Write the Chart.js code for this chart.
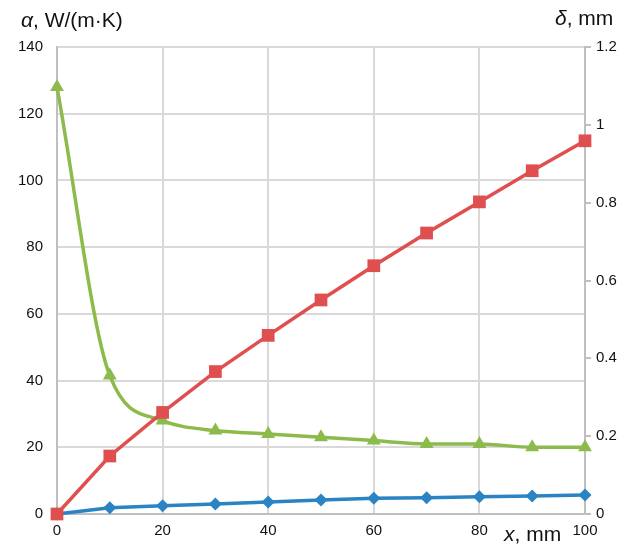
<!DOCTYPE html>
<html>
<head>
<meta charset="utf-8">
<script src="https://cdn.jsdelivr.net/npm/chart.js@4.4.1/dist/chart.umd.min.js"></script>
<style>
    html, body { margin: 0; padding: 0; background: #fff; }
    #wrap { position: relative; width: 633px; height: 546px; }
    .title {
        position: absolute;
        font-family: 'Liberation Sans', Arial, sans-serif;
        font-size: 21px;
        color: #111;
        white-space: nowrap;
        line-height: 1;
    }
</style>
</head>
<body>
<div id="wrap">
    <canvas id="chart" width="633" height="546"></canvas>
    <div class="title" style="left:21px; top:9px;"><i>α</i>, W/(m·K)</div>
    <div class="title" style="left:555px; top:7px;"><i>δ</i>, mm</div>
    <div class="title" style="left:504px; top:523px;"><i>x</i>, mm</div>
</div>
<script>
// Data
const xValues = [0, 10, 20, 30, 40, 50, 60, 70, 80, 90, 100];
const deltaMm = [0, 0.149, 0.261, 0.366, 0.459, 0.550, 0.638, 0.722, 0.802, 0.882, 0.959];
const alphaLow = [0, 1.9, 2.5, 3.0, 3.6, 4.2, 4.7, 4.9, 5.2, 5.4, 5.7];
const alphaHigh = [128, 41.5, 28, 25, 24, 23, 22, 21, 21, 20, 20];

const toPoints = (ys) => xValues.map((x, i) => ({ x: x, y: ys[i] }));

const font = { family: "'Liberation Sans', Arial, sans-serif", size: 15 };
const gridColor = '#d9d9d9';
const axisColor = '#bfbfbf';

const ctx = document.getElementById('chart').getContext('2d');
const chart = new Chart(ctx, {
    type: 'line',
    data: {
        datasets: [
            {
                label: 'delta',
                data: toPoints(deltaMm),
                yAxisID: 'y1',
                borderColor: '#e04f4f',
                backgroundColor: '#e04f4f',
                borderWidth: 3.5,
                pointStyle: 'rect',
                pointRadius: 9,
                pointBorderWidth: 0,
                tension: 0,
                clip: false
            },
            {
                label: 'alpha low',
                data: toPoints(alphaLow),
                yAxisID: 'y',
                borderColor: '#2a84c3',
                backgroundColor: '#2a84c3',
                borderWidth: 3.5,
                pointStyle: 'rectRot',
                pointRadius: 6.5,
                pointBorderWidth: 0,
                tension: 0,
                clip: false
            },
            {
                label: 'alpha high',
                data: toPoints(alphaHigh),
                yAxisID: 'y',
                borderColor: '#8cbb4b',
                backgroundColor: '#8cbb4b',
                borderWidth: 3.5,
                pointStyle: 'triangle',
                pointRadius: 8,
                pointBorderWidth: 0,
                cubicInterpolationMode: 'monotone',
                clip: false
            }
        ]
    },
    options: {
        responsive: false,
        animation: false,
        layout: { padding: { top: 47, left: 0, right: 0, bottom: 0 } },
        plugins: {
            legend: { display: false },
            tooltip: { enabled: false }
        },
        scales: {
            x: {
                type: 'linear',
                min: 0,
                max: 100,
                afterFit: (s) => { s.height = 32; },
                grid: { color: gridColor, lineWidth: 2, drawTicks: false },
                border: { color: axisColor, width: 2 },
                ticks: { stepSize: 20, color: '#111', font: font, padding: 8, maxRotation: 0 }
            },
            y: {
                position: 'left',
                min: 0,
                max: 140,
                afterFit: (s) => { s.width = 57; },
                grid: { color: gridColor, lineWidth: 2, drawTicks: false },
                border: { color: axisColor, width: 2 },
                ticks: { stepSize: 20, color: '#111', font: font, padding: 14 }
            },
            y1: {
                position: 'right',
                min: 0,
                max: 1.2,
                afterFit: (s) => { s.width = 48; },
                grid: { drawOnChartArea: false, color: axisColor, lineWidth: 2, tickLength: 6 },
                border: { color: axisColor, width: 2 },
                ticks: {
                    stepSize: 0.2,
                    color: '#111',
                    font: font,
                    padding: 5,
                    callback: (v) => String(Math.round(v * 10) / 10)
                }
            }
        }
    }
});
</script>
</body>
</html>
